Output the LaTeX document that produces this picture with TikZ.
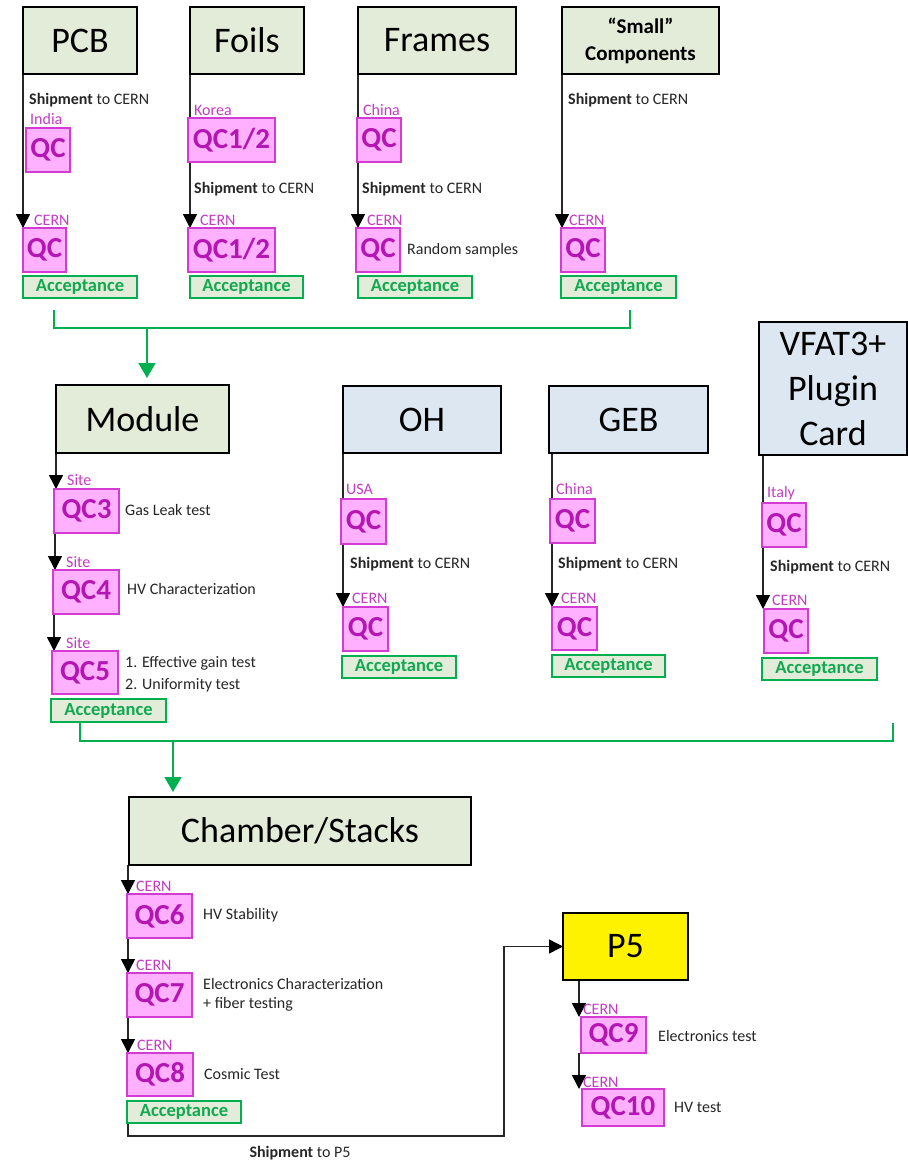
\documentclass[tikz,border=0pt]{standalone}
\usepackage{fontspec}
\setmainfont{Carlito}
\usetikzlibrary{arrows.meta,backgrounds,calc}
\definecolor{tgreen}{HTML}{E2ECD8}
\definecolor{tblue}{HTML}{DDE7F1}
\definecolor{qcfill}{HTML}{FFB0FF}
\definecolor{qcdraw}{HTML}{D23CD2}
\definecolor{qctext}{HTML}{B416B4}
\definecolor{lbl}{HTML}{C33CC3}
\definecolor{accgreen}{HTML}{00B050}
\definecolor{acctext}{HTML}{10A850}
\definecolor{txtgray}{HTML}{262626}
\newcommand\bx[7]{\node[#1, minimum width={#5pt-#3pt}, minimum height={#6pt-#4pt}] (#2) at (#3,#4) {#7};}
\begin{document}
\begin{tikzpicture}[x=1pt,y=-1pt,
  base/.style={anchor=north west, inner sep=0pt, outer sep=0pt},
  title/.style={base, draw=black, line width=2pt, font=\fontsize{36}{45}\selectfont, align=center},
  gtitle/.style={title, fill=tgreen},
  btitle/.style={title, fill=tblue},
  ytitle/.style={title, fill=yellow},
  qcbox/.style={base, draw=qcdraw, fill=qcfill, line width=1.5pt, text=qctext, font=\fontsize{29}{30}\selectfont\bfseries},
  accbox/.style={base, draw=accgreen, fill=tgreen, line width=1.5pt, text=acctext, font=\fontsize{18.5}{20}\selectfont\bfseries},
  lab/.style={anchor=base west, inner sep=0pt, text=lbl, font=\fontsize{16}{17}\selectfont},
  ship/.style={anchor=base west, inner sep=0pt, text=txtgray, font=\fontsize{16}{17}\selectfont},
  desc/.style={anchor=base west, inner sep=0pt, text=txtgray, font=\fontsize{16}{17}\selectfont},
  arr/.style={draw=black!85, line width=1.5pt, -{Triangle[width=14pt,length=14pt,fill=black,color=black]}},
  garr/.style={draw=accgreen, line width=1.5pt, -{Triangle[width=17pt,length=15pt]}},
  gline/.style={draw=accgreen, line width=1.5pt},
]
\useasboundingbox (0,0) rectangle (908,1160);

% ---------- top row ----------
\bx{gtitle}{pcb}{23}{7}{137}{74}{PCB}
\bx{gtitle}{foils}{190}{7}{304}{74}{Foils}
\bx{gtitle}{frames}{358}{7}{516}{74}{Frames}
\bx{gtitle,font=\fontsize{21}{27}\selectfont\bfseries}{small}{562}{7}{719}{74}{“Small”\\Components}

\bx{qcbox}{pcbqa}{26}{128}{70}{172}{QC}
\bx{qcbox}{pcbqb}{23}{228}{66}{272}{QC}
\bx{accbox}{pcbacc}{23}{276}{137}{298}{Acceptance}
\bx{qcbox}{foilsqa}{188}{118}{275}{162}{QC1/2}
\bx{qcbox}{foilsqb}{188}{228}{275}{272}{QC1/2}
\bx{accbox}{foilsacc}{190}{276}{303}{298}{Acceptance}
\bx{qcbox}{framesqa}{357}{118}{401}{162}{QC}
\bx{qcbox}{framesqb}{356}{228}{400}{272}{QC}
\bx{accbox}{framesacc}{358}{276}{472}{298}{Acceptance}
\bx{qcbox}{smallq}{561}{228}{605}{272}{QC}
\bx{accbox}{smallacc}{561}{276}{676}{298}{Acceptance}

\node[lab] (l1) at (30,124) {India};
\node[lab] (l2) at (34,225) {CERN};
\node[lab] (l3) at (194,115) {Korea};
\node[lab] (l4) at (200,225) {CERN};
\node[lab] (l5) at (363,115) {China};
\node[lab] (l6) at (367,225) {CERN};
\node[lab] (l7) at (569,225) {CERN};

\node[ship] (s1) at (29,104) {\bfseries Shipment\mdseries{} to CERN};
\node[ship] (s2) at (194,193) {\bfseries Shipment\mdseries{} to CERN};
\node[ship] (s3) at (362,193) {\bfseries Shipment\mdseries{} to CERN};
\node[ship] (s4) at (568,104) {\bfseries Shipment\mdseries{} to CERN};
\node[desc] (d0) at (407,254) {Random samples};

% ---------- middle row ----------
\bx{gtitle}{module}{56}{385}{229}{453}{Module}
\bx{btitle}{oh}{343}{386}{501}{453}{OH}
\bx{btitle}{geb}{549}{386}{708}{453}{GEB}
\bx{btitle}{vfat}{759}{322}{907}{455}{VFAT3+\\Plugin\\Card}

\bx{qcbox}{qc3}{54}{489}{119}{533}{QC3}
\bx{qcbox}{qc4}{53}{570}{119}{614}{QC4}
\bx{qcbox}{qc5}{52}{651}{118}{694}{QC5}
\bx{accbox}{modacc}{51}{699}{166}{722}{Acceptance}
\bx{qcbox}{ohqa}{341}{499}{386}{544}{QC}
\bx{qcbox}{ohqb}{343}{607}{388}{651}{QC}
\bx{accbox}{ohacc}{342}{656}{456}{678}{Acceptance}
\bx{qcbox}{gebqa}{550}{499}{595}{543}{QC}
\bx{qcbox}{gebqb}{552}{607}{597}{650}{QC}
\bx{accbox}{gebacc}{552}{655}{665}{677}{Acceptance}
\bx{qcbox}{vfatqa}{762}{503}{806}{547}{QC}
\bx{qcbox}{vfatqb}{764}{609}{808}{653}{QC}
\bx{accbox}{vfatacc}{762}{658}{877}{680}{Acceptance}

\node[lab] (m1) at (67,485) {Site};
\node[lab] (m2) at (66,567) {Site};
\node[lab] (m3) at (66,648) {Site};
\node[lab] (m4) at (346,494) {USA};
\node[lab] (m5) at (352,603) {CERN};
\node[lab] (m6) at (556,494) {China};
\node[lab] (m7) at (561,603) {CERN};
\node[lab] (m8) at (767,497) {Italy};
\node[lab] (m9) at (772,605) {CERN};

\node[desc] (d1) at (125,515) {Gas Leak test};
\node[desc] (d2) at (127,594) {HV Characterization};
\node[desc] (d3) at (125,667) {1. Effective gain test};
\node[desc] (d4) at (125,689) {2. Uniformity test};
\node[ship] (s5) at (350,568) {\bfseries Shipment\mdseries{} to CERN};
\node[ship] (s6) at (558,568) {\bfseries Shipment\mdseries{} to CERN};
\node[ship] (s7) at (770,571) {\bfseries Shipment\mdseries{} to CERN};

% ---------- bottom ----------
\bx{gtitle}{chamber}{129}{797}{471}{865}{Chamber/Stacks}
\bx{qcbox}{qc6}{127}{894}{192}{938}{QC6}
\bx{qcbox}{qc7}{127}{973}{192}{1017}{QC7}
\bx{qcbox}{qc8}{127}{1053}{193}{1096}{QC8}
\bx{accbox}{chacc}{127}{1101}{241}{1123}{Acceptance}
\bx{ytitle}{p5}{563}{913}{688}{980}{P5}
\bx{qcbox}{qc9}{581}{1017}{646}{1053}{QC9}
\bx{qcbox}{qc10}{582}{1089}{664}{1126}{QC10}

\node[lab] (c1) at (136,891) {CERN};
\node[lab] (c2) at (136,970) {CERN};
\node[lab] (c3) at (137,1050) {CERN};
\node[lab] (c4) at (583,1014) {CERN};
\node[lab] (c5) at (583,1087) {CERN};

\node[desc] (e1) at (203,919) {HV Stability};
\node[desc] (e2) at (203,989) {Electronics Characterization};
\node[desc] (e3) at (203,1008) {+ fiber testing};
\node[desc] (e4) at (204,1079) {Cosmic Test};
\node[desc] (e5) at (658,1041) {Electronics test};
\node[desc] (e6) at (674,1112) {HV test};
\node[ship,anchor=base] (s8) at (300,1157) {\bfseries Shipment\mdseries{} to P5};

% ---------- connectors ----------
\coordinate (ga) at (54,310);
\coordinate (gb) at (630,310);
\coordinate (gm) at (147,328);
\coordinate (ha) at (80,723);
\coordinate (hb) at (893,723);
\coordinate (hm) at (173,741);
\coordinate (route) at (504,1136);

\begin{scope}[on background layer]
\draw[arr] (pcb.south west) -- (pcb.south west |- pcbqb.north);
\draw[arr] (foils.south west) -- (foils.south west |- foilsqb.north);
\draw[arr] (frames.south west) -- (frames.south west |- framesqb.north);
\draw[arr] (small.south west) -- (small.south west |- smallq.north);

\draw[gline] (ga) |- (gb |- gm) -- (gb);
\draw[garr, shorten >=7pt] (gm) -- (gm |- module.north);

\draw[arr] (module.south west) -- (module.south west |- qc3.north);
\draw[arr] ([xshift=1pt]qc3.south west) -- ([xshift=1pt]qc3.south west |- qc4.north);
\draw[arr] ([xshift=1pt]qc4.south west) -- ([xshift=1pt]qc4.south west |- qc5.north);
\draw[arr] (oh.south west) -- (oh.south west |- ohqb.north);
\draw[arr] ([xshift=3pt]geb.south west) -- ([xshift=3pt]geb.south west |- gebqb.north);
\draw[arr] ([xshift=4pt]vfat.south west) -- ([xshift=4pt]vfat.south west |- vfatqb.north);

\draw[gline] (ha) |- (hb |- hm) -- (hb);
\draw[garr, shorten >=5pt] (hm) -- (hm |- chamber.north);

\draw[arr] ([xshift=-1pt]chamber.south west) -- ([xshift=-1pt]chamber.south west |- qc6.north);
\draw[arr] ([xshift=1pt]qc6.south west) -- ([xshift=1pt]qc6.south west |- qc7.north);
\draw[arr] ([xshift=1pt]qc7.south west) -- ([xshift=1pt]qc7.south west |- qc8.north);
\draw[arr] ([xshift=1pt]chacc.south west) |- (route) |- (p5.west);

\draw[arr] ([xshift=16pt]p5.south west) -- ([xshift=16pt]p5.south west |- qc9.north);
\draw[arr] ([xshift=-2pt]qc9.south west) -- ([xshift=-2pt]qc9.south west |- qc10.north);
\end{scope}
\end{tikzpicture}
\end{document}
